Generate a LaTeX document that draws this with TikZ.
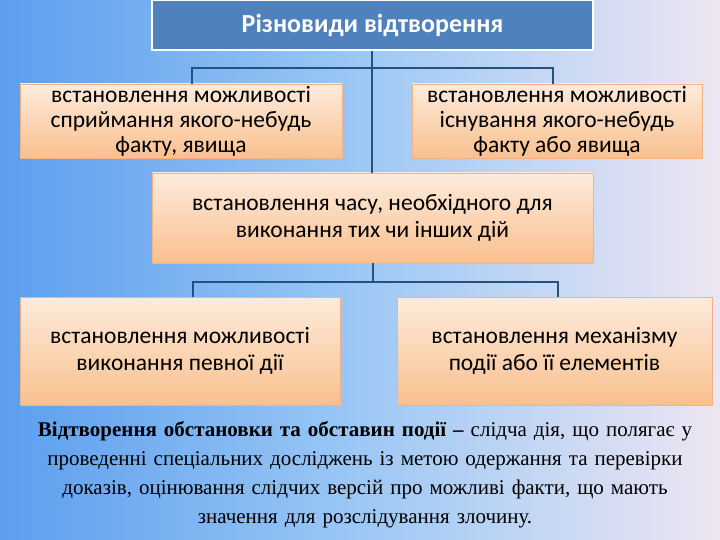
\documentclass[tikz,border=0pt]{standalone}
\usepackage{fontspec}
\setmainfont{Carlito}
\newfontfamily\serifb{Liberation Serif}
\definecolor{bgL}{HTML}{5C9EEE}
\definecolor{bgM}{HTML}{9CC8F5}
\definecolor{bgR}{HTML}{EDE6F2}
\definecolor{ttl}{HTML}{4F81BD}
\definecolor{boxT}{HTML}{FDEBDC}
\definecolor{boxB}{HTML}{F9C08E}
\definecolor{boxD}{HTML}{F4B183}
\definecolor{lnc}{HTML}{24527E}
\begin{document}
\begin{tikzpicture}[x=1pt,y=-1pt,
  box/.style={draw=boxD,line width=0.8pt,top color=boxT,bottom color=boxB,align=center,font=\fontsize{23.5}{25}\selectfont,text=black,inner sep=0pt},
  conn/.style={draw=lnc,line width=1.6pt}]
\shade[left color=bgL,right color=bgR,middle color=bgM] (0,0) rectangle (720,540);
\useasboundingbox (0,0) rectangle (720,540);
\node[draw=white,line width=1.2pt,fill=ttl,text=white,minimum width=441pt,minimum height=50pt,font=\fontsize{26}{28}\selectfont\bfseries] (t) at (372.5,25) {Різновиди відтворення};
\node[box,minimum width=322pt,minimum height=74pt] (a) at (181,121) {встановлення можливості\\сприймання якого-небудь\\факту, явища};
\node[box,minimum width=290pt,minimum height=74pt] (b) at (557,121) {встановлення можливості\\існування якого-небудь\\факту або явища};
\node[box,minimum width=441pt,minimum height=90pt,font=\fontsize{23.5}{27}\selectfont] (c) at (372.5,218) {встановлення часу, необхідного для\\виконання тих чи інших дій};
\node[box,minimum width=320pt,minimum height=108pt,font=\fontsize{23.5}{27}\selectfont] (d) at (180,351) {встановлення можливості\\виконання певної дії};
\node[box,minimum width=315pt,minimum height=108pt,font=\fontsize{23.5}{27}\selectfont] (e) at (554.5,351) {встановлення механізму\\події або її елементів};
\coordinate (j1) at (372,68);
\coordinate (j2) at (373,282);
\draw[conn] (t.south -| j1) -- (c.north -| j1);
\draw[conn] (a.north -| 192,0) |- (j1) -| (b.north -| 553,0);
\draw[conn] (c.south -| j2) -- (j2);
\draw[conn] (d.north -| 193,0) |- (j2) -| (e.north -| 558,0);
\node[align=center,font=\serifb\fontsize{21}{29}\selectfont,text width=710pt] (p) at (365,475)
{\textbf{Відтворення обстановки та обставин події –} слідча дія, що полягає у\\проведенні спеціальних досліджень із метою одержання та перевірки\\доказів, оцінювання слідчих версій про можливі факти, що мають\\значення для розслідування злочину.};
\end{tikzpicture}
\end{document}
